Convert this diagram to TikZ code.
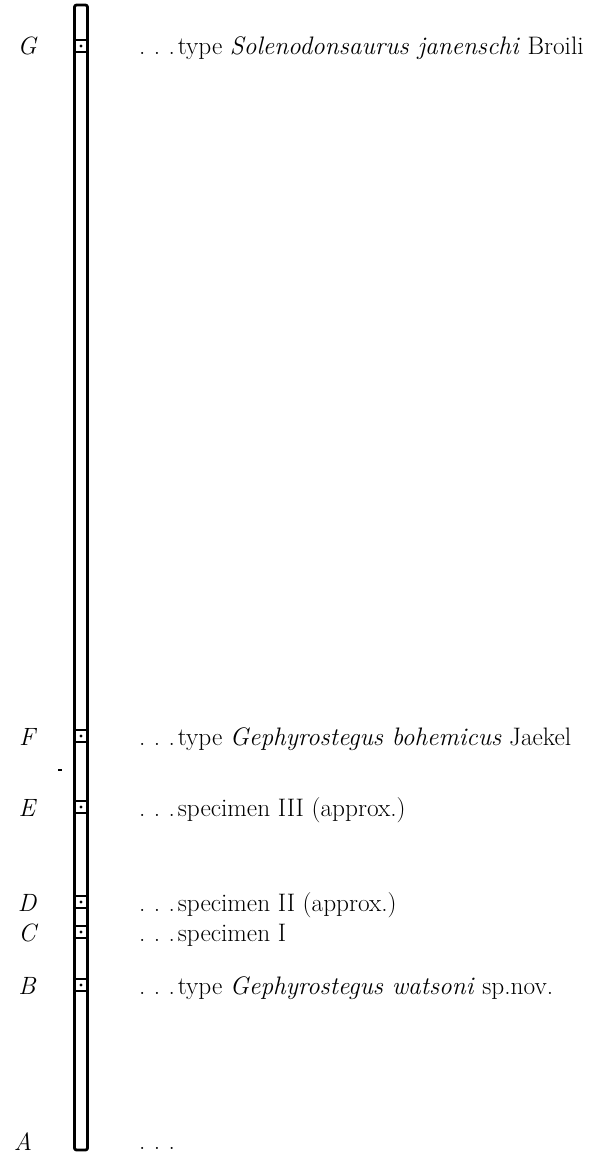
\documentclass[tikz,border=0pt]{standalone}
\begin{document}
\begin{tikzpicture}[x=1pt,y=-1pt,
  column/.style={line width=2.8pt, line join=round},
  cellline/.style={line width=2pt},
  lvl/.style={font=\fontsize{25}{30}\selectfont\itshape, anchor=base, inner sep=0pt},
  txt/.style={font=\fontsize{25.3}{30}\selectfont, anchor=base west, inner sep=0pt},
]
\newcommand\spdots{.\hspace{0.33em}.\hspace{0.33em}.\hspace{0.12em}}
\useasboundingbox (0,0) rectangle (594,1156);

% the section column
\draw[column, rounded corners=2pt] (74.5,5) -- (74.5,1150) -- (87.5,1150) -- (87.5,5) -- cycle;

% horizons: level letter, marked cell, description
\foreach \n/\y/\t in {
  G/46/{\spdots type \textit{Solenodonsaurus janenschi} Broili},
  F/736/{\spdots type \textit{Gephyrostegus bohemicus} Jaekel},
  E/807/{\spdots specimen III (approx.)},
  D/902/{\spdots specimen II (approx.)},
  C/932/{\spdots specimen I},
  B/985/{\spdots type \textit{Gephyrostegus watsoni} sp.nov.}} {
  \draw[cellline] (74.5,\y-6) -- (87.5,\y-6);
  \draw[cellline] (74.5,\y+6) -- (87.5,\y+6);
  \fill (81,\y) circle (1.7);
  \node[lvl] (lab\n) at (27,\y+9) {\n};
  \node[txt] (txt\n) at (139,\y+9) {\t};
}
\node[lvl] (labA) at (23,1150) {A};
\node[txt] (txtA) at (139,1149) {\spdots};

% small stray tick left of the column
\draw[line width=1.2pt] (58,770) -- (62,770);
\end{tikzpicture}
\end{document}
